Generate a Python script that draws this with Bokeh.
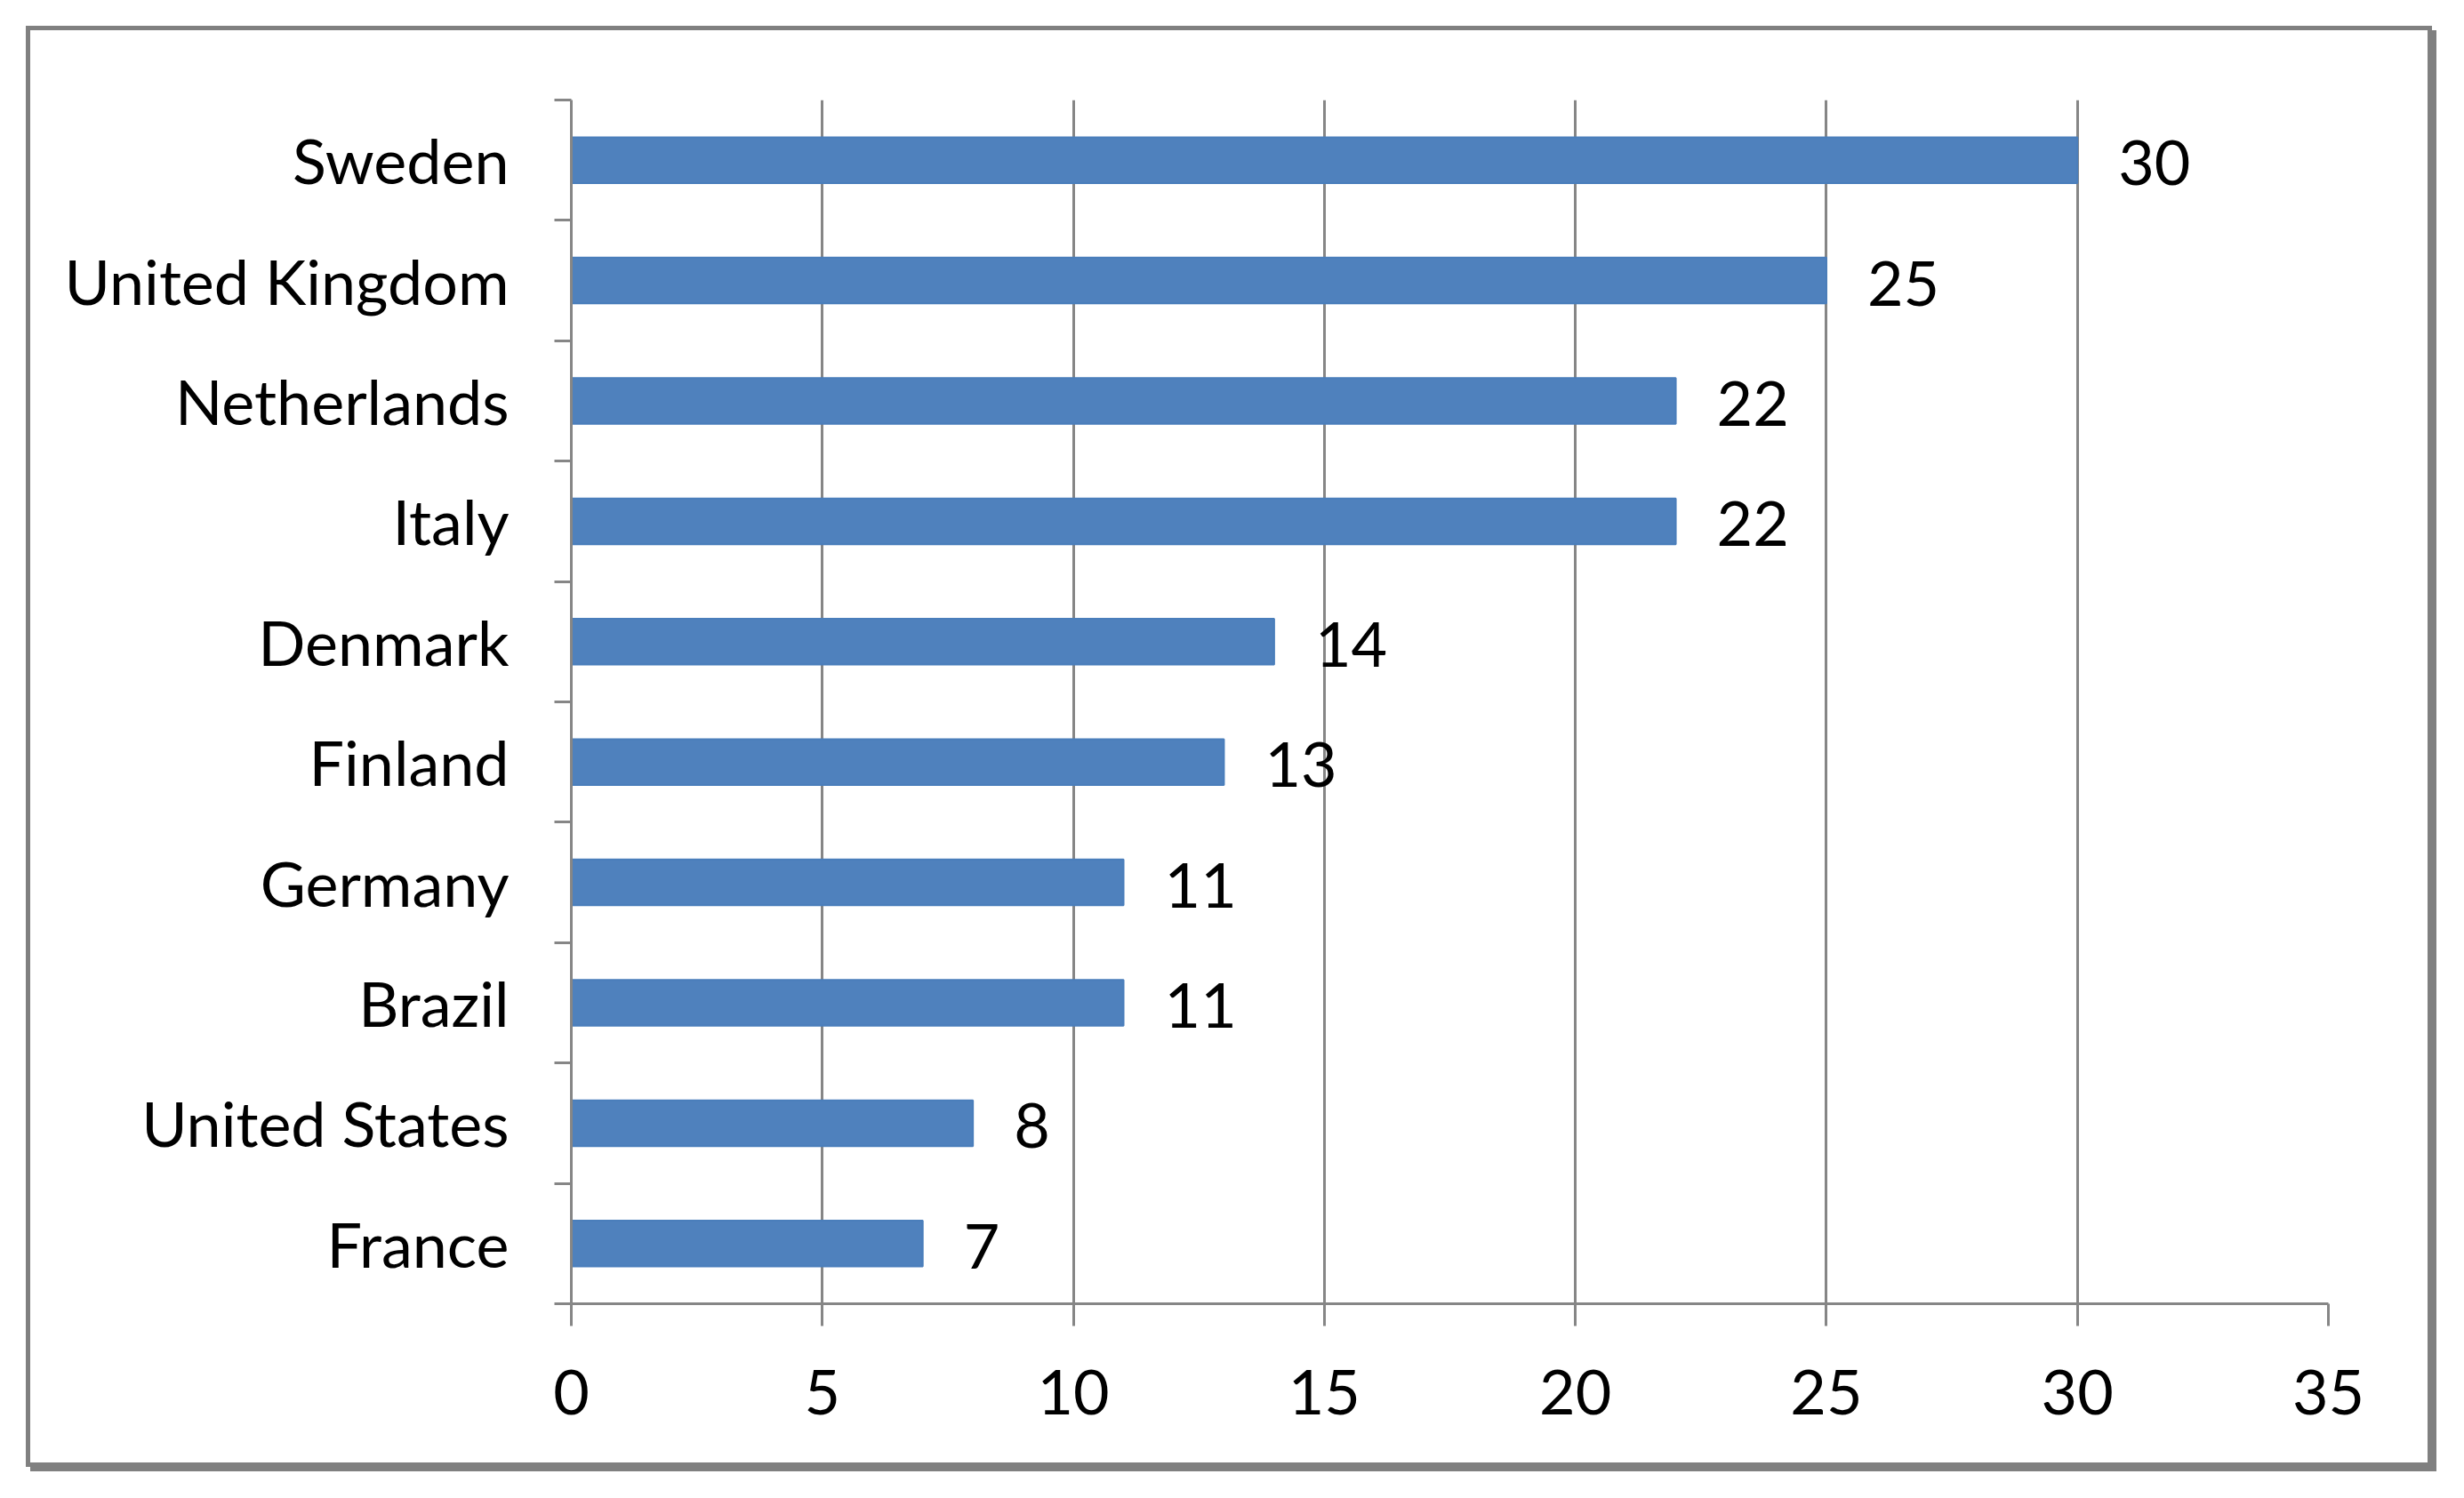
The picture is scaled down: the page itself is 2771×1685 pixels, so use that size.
from bokeh.plotting import figure
from bokeh.models import Range1d, FixedTicker, ColumnDataSource
from bokeh.core.properties import value
from bokeh.embed import file_html
from bokeh.resources import INLINE

countries = ["Sweden", "United Kingdom", "Netherlands", "Italy", "Denmark",
             "Finland", "Germany", "Brazil", "United States", "France"]
values = [30, 25, 22, 22, 14, 13, 11, 11, 8, 7]
x_ticks = [0, 5, 10, 15, 20, 25, 30, 35]

n = len(countries)
# position from bottom: France at bottom
ypos = [n - 1 - i + 0.5 for i in range(n)]
src = ColumnDataSource(dict(y=ypos, v=values, lab=[str(v) for v in values], c=countries))

FONT = "Lato"
FS = "70px"
GRAY = "#868686"

p = figure(width=2706, height=1621, output_backend="svg", toolbar_location=None,
           x_range=Range1d(0, 35), y_range=Range1d(0, n),
           min_border_left=608, min_border_right=122, min_border_top=78, min_border_bottom=189)
p.styles = {"margin-left": "29px", "margin-top": "29px",
            "border": "5px solid #808080", "box-shadow": "5px 5px 0 #808080"}
p.outline_line_color = None
p.background_fill_color = "white"
p.border_fill_color = "white"

p.hbar(y="y", right="v", left=0, height=0.38, source=src,
       fill_color="#4F81BD", line_color="#4A7EBB", line_width=2)
p.text(x="v", y="y", text="lab", source=src, x_offset=46, y_offset=3,
       text_font=value(FONT), text_font_size=FS, text_baseline="middle",
       text_align="left", text_color="#000000")

# x axis
xa = p.xaxis[0]
xa.ticker = FixedTicker(ticks=x_ticks)
xa.axis_line_color = GRAY
xa.axis_line_width = 3
xa.major_tick_line_color = GRAY
xa.major_tick_line_width = 3
xa.major_tick_out = 25
xa.major_tick_in = 0
xa.minor_tick_line_color = None
xa.major_label_text_font = FONT
xa.major_label_text_font_size = FS
xa.major_label_text_color = "#000000"
xa.major_label_standoff = 49

# y axis: labels at category centres, ticks at boundaries
ya = p.yaxis[0]
ya.ticker = FixedTicker(ticks=ypos, minor_ticks=list(range(n + 1)))
ya.major_label_overrides = {y: c for y, c in zip(ypos, countries)}
ya.axis_line_color = GRAY
ya.axis_line_width = 3
ya.major_tick_line_color = None
ya.major_tick_out = 0
ya.major_tick_in = 0
ya.minor_tick_line_color = GRAY
ya.minor_tick_line_width = 3
ya.minor_tick_out = 19
ya.minor_tick_in = 0
ya.major_label_text_font = FONT
ya.major_label_text_font_size = FS
ya.major_label_text_color = "#000000"
ya.major_label_standoff = 51

p.xgrid.ticker = FixedTicker(ticks=x_ticks)
p.xgrid.grid_line_color = GRAY
p.xgrid.grid_line_width = 3
p.ygrid.grid_line_color = None

open("out.html", "w").write(file_html(p, INLINE))
